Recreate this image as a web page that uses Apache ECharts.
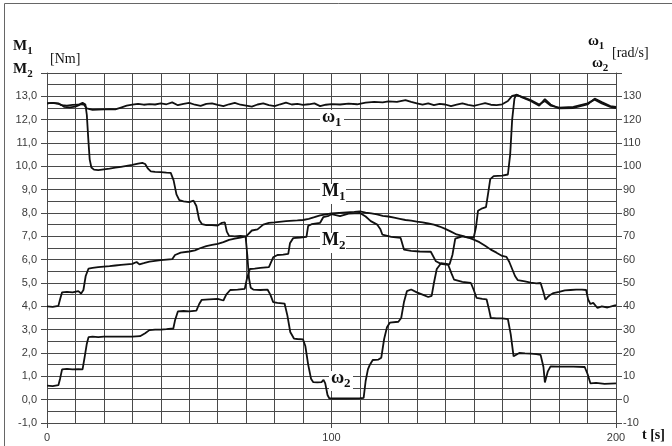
<!DOCTYPE html>
<html>
<head>
<meta charset="utf-8">
<script src="https://cdn.jsdelivr.net/npm/echarts@6/dist/echarts.min.js"></script>
<style>
  html, body { margin: 0; padding: 0; background: #fff; }
  #chart { width: 672px; height: 446px; }
</style>
</head>
<body>
<div id="chart"></div>
<script>
// Time axis [s] and torque / speed axes
const tMin = 0, tMax = 200;
const mMin = -1, mMax = 14;          // torque axis [Nm]
const wMin = -10, wMax = 140;        // speed axis [rad/s]
const timeLabels = [0, 100, 200];

// Speed of motor 1, omega1 [rad/s] : [t, value]
const omega1 = [
  [0,127],[2,127.2],[4,126.8],[5,126.4],[6,125.5],[8,125.3],[10,125.6],[12,126.6],[13,126.4],
  [14,124.8],[16,124.2],[18,124.3],[20,124.4],[22,124.5],[24,124.4],[26,125.2],[28,126],
  [30,126.4],[32,126.8],[34,126.4],[36,126.7],[38,126.5],[40,127],[42,126.6],[44,127.4],
  [46,126.2],[48,126.8],[50,127.2],[52,126.4],[54,125.9],[56,126.8],[58,127],[60,126.3],
  [62,125.8],[64,126.6],[66,127.2],[68,126.4],[70,126],[72,125.6],[74,126.5],[76,127],
  [78,126.2],[80,125.8],[82,126.6],[84,127.3],[86,126.5],[88,126.8],[90,126.3],[92,126.6],
  [94,127],[96,125.8],[98,126.4],[100,126.7],[103,126.5],[106,126.9],[109,126.6],[112,127.3],
  [115,127.6],[118,127.4],[120,127.8],[123,127.6],[126,128.4],[128,127.6],[130,127],
  [132,126.4],[134,127],[136,126.2],[138,126.8],[140,126.5],[142,125.8],[144,126.4],
  [146,127],[148,126.3],[150,125.9],[152,126.5],[154,127.1],[156,126.4],[158,126.2],
  [160,126.6],[162,128],[163.5,130.2],[165,130.6],[167,129.8],[170,128.4],[173,126.5],
  [175,128],[177,126],[180,125.2],[185,125.5],[190,127],[192.5,128.6],[195,127],[198,125.5],[200,125]
];

// Speed of motor 2, omega2 [rad/s] : [t, value]
const omega2 = [
  [0,127],[2,127.2],[4,127],[5,126.2],[7,126],[9,126.3],[11,126.4],[12.5,127.2],[13.5,126.5],
  [14,122],[14.5,112],[15,103],[15.6,99.5],[16.5,98.6],[18,98.4],[20,98.7],[22,99],[24,99.4],
  [26,99.8],[28,100.2],[30,100.6],[32,101.2],[33.5,101.5],[34.5,101],[35.5,99],[36.5,97.8],
  [38,97.6],[40,97.5],[42,97.3],[43.5,97.2],[44.5,94],[45.5,88],[46.5,85.5],[48,85],[50,84.7],
  [51.5,85.3],[52.5,83],[53.5,77],[54.5,75.2],[56,74.8],[58,74.8],[60,74.6],[61.5,75.8],
  [62.5,76],[63.2,72],[64,70.2],[66,70],[68,70.2],[69.8,70],[70.4,62],[71,52],[71.6,48],
  [72.5,47.2],[75,47],[77.5,47.2],[78.5,45],[79.5,41.8],[81,41.5],[83.5,41.2],[84.5,36],
  [85.5,29],[86.8,26.2],[88,26],[90,25.8],[90.8,23],[91.8,15],[92.8,9],[93.6,7.5],[95,7.4],
  [96.5,7.5],[97.2,8.5],[97.8,7],[98.6,2],[99.2,0.6],[100,0.5],[105,0.5],[110,0.6],[111.3,0.8],
  [112,8],[112.8,13],[113.5,15],[114.5,17],[116.5,17.2],[117.5,18],[118.5,26],[119.5,31],
  [120.5,33],[123.5,33.4],[124.5,35],[125.5,42],[126.5,46.5],[128,47.2],[130,46],[132,45],
  [134,44],[135.2,44.5],[136,50],[137,56],[138.5,58.5],[141.5,58],[142.5,62],[143.5,69],
  [146,70],[148,69.5],[150,69.5],[150.8,74],[151.5,81],[153,82],[154.3,82.5],[155,88],
  [155.8,94.5],[157,95.8],[160,96],[162,96.5],[162.8,105],[163.5,120],[164.3,129],[165,130.8],
  [167,129.5],[170,128],[173,126],[175,128.8],[177,126.5],[180,124.8],[185,125],[190,126.5],
  [192.5,129],[195,127.5],[198,125.8],[200,125.5]
];

// Torque of motor 1, M1 [Nm] : [t, value]
const torque1 = [
  [0,4.0],[2,3.98],[4,4.02],[4.6,4.3],[5.3,4.6],[7,4.62],[9,4.6],[11,4.65],[12,4.55],[12.8,4.7],
  [13.6,5.3],[14.6,5.62],[16,5.65],[18,5.68],[20,5.7],[22,5.72],[24,5.75],[26,5.78],[28,5.8],
  [30,5.82],[31.5,5.9],[32.5,5.8],[34,5.85],[36,5.92],[38,5.95],[40,5.98],[42,6.0],[44,6.02],
  [45,6.2],[47,6.3],[50,6.35],[52,6.4],[54,6.5],[56,6.58],[58,6.63],[60,6.68],[62,6.75],
  [64,6.85],[66,6.9],[68,6.95],[70,7.0],[72,7.25],[74,7.3],[76,7.5],[78,7.58],[80,7.6],
  [84,7.65],[88,7.68],[90,7.7],[92,7.75],[94,7.82],[96,7.9],[100,7.98],[104,8.02],[108,8.05],
  [110,8.07],[112,8.02],[114,7.98],[116,7.94],[118,7.88],[120,7.85],[122,7.8],[124,7.75],
  [126,7.7],[128,7.67],[130,7.63],[132,7.6],[134,7.55],[136,7.5],[138,7.42],[140,7.32],
  [142,7.2],[144,7.08],[146,7.02],[148,6.95],[150,6.86],[152,6.75],[154,6.6],[156,6.43],
  [158,6.3],[160,6.16],[161.5,6.12],[162.5,5.9],[163.5,5.6],[164.5,5.3],[165.5,5.12],
  [168,5.07],[170,5.02],[172,4.98],[173.5,5.0],[174.5,4.6],[175.2,4.28],[176,4.4],[177,4.5],
  [178,4.57],[180,4.62],[182,4.68],[184,4.7],[186,4.72],[188,4.72],[189.5,4.7],[190.2,4.3],
  [191,4.1],[192,4.15],[193.5,3.93],[195,4.0],[197,3.95],[199,4.02],[200,4.05]
];

// Torque of motor 2, M2 [Nm] : [t, value]
const torque2 = [
  [0,0.6],[2,0.58],[4,0.62],[4.6,0.9],[5.3,1.3],[7,1.32],[9,1.3],[11,1.31],[12.5,1.3],
  [13.2,1.8],[14,2.4],[14.6,2.68],[16,2.7],[18,2.68],[20,2.7],[25,2.7],[30,2.7],[32.7,2.72],
  [34.5,2.85],[36,2.98],[38,3.0],[40,3.0],[42,3.02],[44.4,3.05],[45,3.4],[46,3.78],[48,3.8],
  [50,3.78],[52.5,3.82],[53.5,4.1],[54.4,4.28],[57,4.3],[60,4.32],[62,4.25],[63,4.5],
  [64.4,4.7],[67,4.72],[69.5,4.75],[70.3,5.2],[71.3,5.6],[73,5.62],[75,5.65],[78,5.68],
  [79.5,6.1],[81,6.2],[83,6.22],[84.8,6.25],[85.4,6.7],[86.5,6.92],[89,6.95],[91.2,6.98],
  [91.8,7.45],[93,7.52],[96,7.58],[97.1,7.82],[99,7.88],[100,7.95],[103,7.87],[106,7.97],
  [110,8.0],[112,7.85],[113.8,7.65],[116.1,7.5],[117.2,7.3],[117.9,7.07],[121,6.98],
  [124.3,6.93],[125.5,6.43],[128,6.38],[131,6.35],[134.9,6.34],[136.7,5.93],[138.5,5.82],
  [141,5.78],[142.2,5.4],[143.1,5.14],[146,5.05],[149,5.0],[150,4.7],[151,4.36],[153,4.32],
  [154.5,4.3],[155.3,3.9],[156,3.5],[158,3.48],[160,3.48],[162,3.45],[163,2.8],[164,1.86],
  [166,2.0],[168,1.98],[170,1.97],[172,1.95],[173.5,1.92],[174.5,1.4],[175,0.74],[176,1.2],
  [177,1.43],[180,1.42],[185,1.42],[189,1.4],[190,1.1],[191,0.7],[193,0.72],[196,0.68],[200,0.7]
];

const chart = echarts.init(document.getElementById('chart'), null, { renderer: 'canvas' });

const gridColor = '#4a4a4a';
const labelFont = { fontFamily: 'Liberation Sans', fontSize: 11, color: '#3a3a3a' };
const serifBold = '"Liberation Serif", serif';

function line(name, data, yAxisIndex) {
  return {
    name, type: 'line', data, yAxisIndex, xAxisIndex: 0,
    showSymbol: false, symbol: 'none', smooth: false,
    lineStyle: { color: '#111', width: 1.8 },
    z: 5, silent: true, animation: false
  };
}

// Symbol with a lowered subscript, e.g. M₁ or ω₂
function sym(x, y, base, sub, size) {
  const s = size || 16;
  const adv = base === 'M' ? 0.95 : 0.72;
  return [
    { type: 'text', x, y, style: { text: base, font: 'bold ' + s + 'px ' + serifBold, fill: '#111' }, z: 20 },
    { type: 'text', x: x + s * adv, y: y + s * 0.45, style: { text: sub, font: 'bold ' + Math.round(s * 0.7) + 'px ' + serifBold, fill: '#111' }, z: 20 }
  ];
}

// Curve name on a white patch over the grid
function curveTag(x, y, base, sub, w) {
  return [
    { type: 'rect', shape: { x: x - 2, y: y + 2, width: w, height: 20 }, style: { fill: '#fff' }, z: 15 }
  ].concat(sym(x, y, base, sub, 18));
}

const fmtComma = v => v.toFixed(1).replace('.', ',');

chart.setOption({
  animation: false,
  backgroundColor: '#fff',
  grid: { left: 47, right: 56, top: 73, bottom: 23, containLabel: false },
  xAxis: [
    {
      type: 'value', min: tMin, max: tMax, interval: 10,
      axisLine: { show: true, onZero: false, lineStyle: { color: gridColor, width: 1 } },
      axisTick: { show: false }, axisLabel: { show: false },
      splitLine: { show: true, lineStyle: { color: gridColor, width: 1 } }
    },
    {
      type: 'value', min: tMin, max: tMax, interval: 100, position: 'bottom',
      axisLine: { show: false, onZero: false },
      axisTick: { show: true, length: 5, lineStyle: { color: gridColor } },
      axisLabel: Object.assign({ margin: 9, formatter: v => timeLabels.includes(v) ? String(v) : '' }, labelFont),
      splitLine: { show: false }
    }
  ],
  yAxis: [
    {
      type: 'value', min: mMin, max: mMax, interval: 0.5, position: 'left',
      axisLine: { show: true, onZero: false, lineStyle: { color: gridColor, width: 1 } },
      axisTick: { show: false }, axisLabel: { show: false },
      splitLine: { show: true, lineStyle: { color: gridColor, width: 1 } }
    },
    {
      type: 'value', min: mMin, max: mMax, interval: 1, position: 'left',
      axisLine: { show: false, onZero: false },
      axisTick: { show: true, length: 6, lineStyle: { color: gridColor } },
      axisLabel: Object.assign({ margin: 10, formatter: v => v > 13 ? '' : fmtComma(v) }, labelFont),
      splitLine: { show: false }
    },
    {
      type: 'value', min: wMin, max: wMax, interval: 10, position: 'right',
      axisLine: { show: true, onZero: false, lineStyle: { color: gridColor, width: 1 } },
      axisTick: { show: true, length: 6, lineStyle: { color: gridColor } },
      axisLabel: Object.assign({ margin: 7, formatter: v => v > 130 ? '' : String(v) }, labelFont),
      splitLine: { show: false }
    }
  ],
  series: [
    line('omega1', omega1, 2),
    line('omega2', omega2, 2),
    line('M1', torque1, 0),
    line('M2', torque2, 0)
  ],
  graphic: [
    // chart area border, left and top edges
    { type: 'line', shape: { x1: 4.5, y1: 3.5, x2: 4.5, y2: 446 }, style: { stroke: '#666', lineWidth: 1 }, z: 1 },
    { type: 'line', shape: { x1: 4.5, y1: 3.5, x2: 672, y2: 3.5 }, style: { stroke: '#666', lineWidth: 1 }, z: 1 },
    // left axis title
    ...sym(13, 39, 'M', '1', 15),
    { type: 'text', x: 50, y: 52, style: { text: '[Nm]', font: '14px ' + serifBold, fill: '#111' }, z: 20 },
    ...sym(13, 62, 'M', '2', 15),
    // right axis title
    ...sym(588, 34, 'ω', '1', 15),
    { type: 'text', x: 612, y: 46, style: { text: '[rad/s]', font: '14px ' + serifBold, fill: '#111' }, z: 20 },
    ...sym(592, 56, 'ω', '2', 15),
    // time axis title
    { type: 'text', x: 642, y: 428, style: { text: 't [s]', font: 'bold 14px ' + serifBold, fill: '#111' }, z: 20 },
    // curve tags
    ...curveTag(322, 108, 'ω', '1', 24),
    ...curveTag(322, 182, 'M', '1', 26),
    ...curveTag(322, 231, 'M', '2', 26),
    ...curveTag(331, 369, 'ω', '2', 24)
  ]
});
</script>
</body>
</html>
